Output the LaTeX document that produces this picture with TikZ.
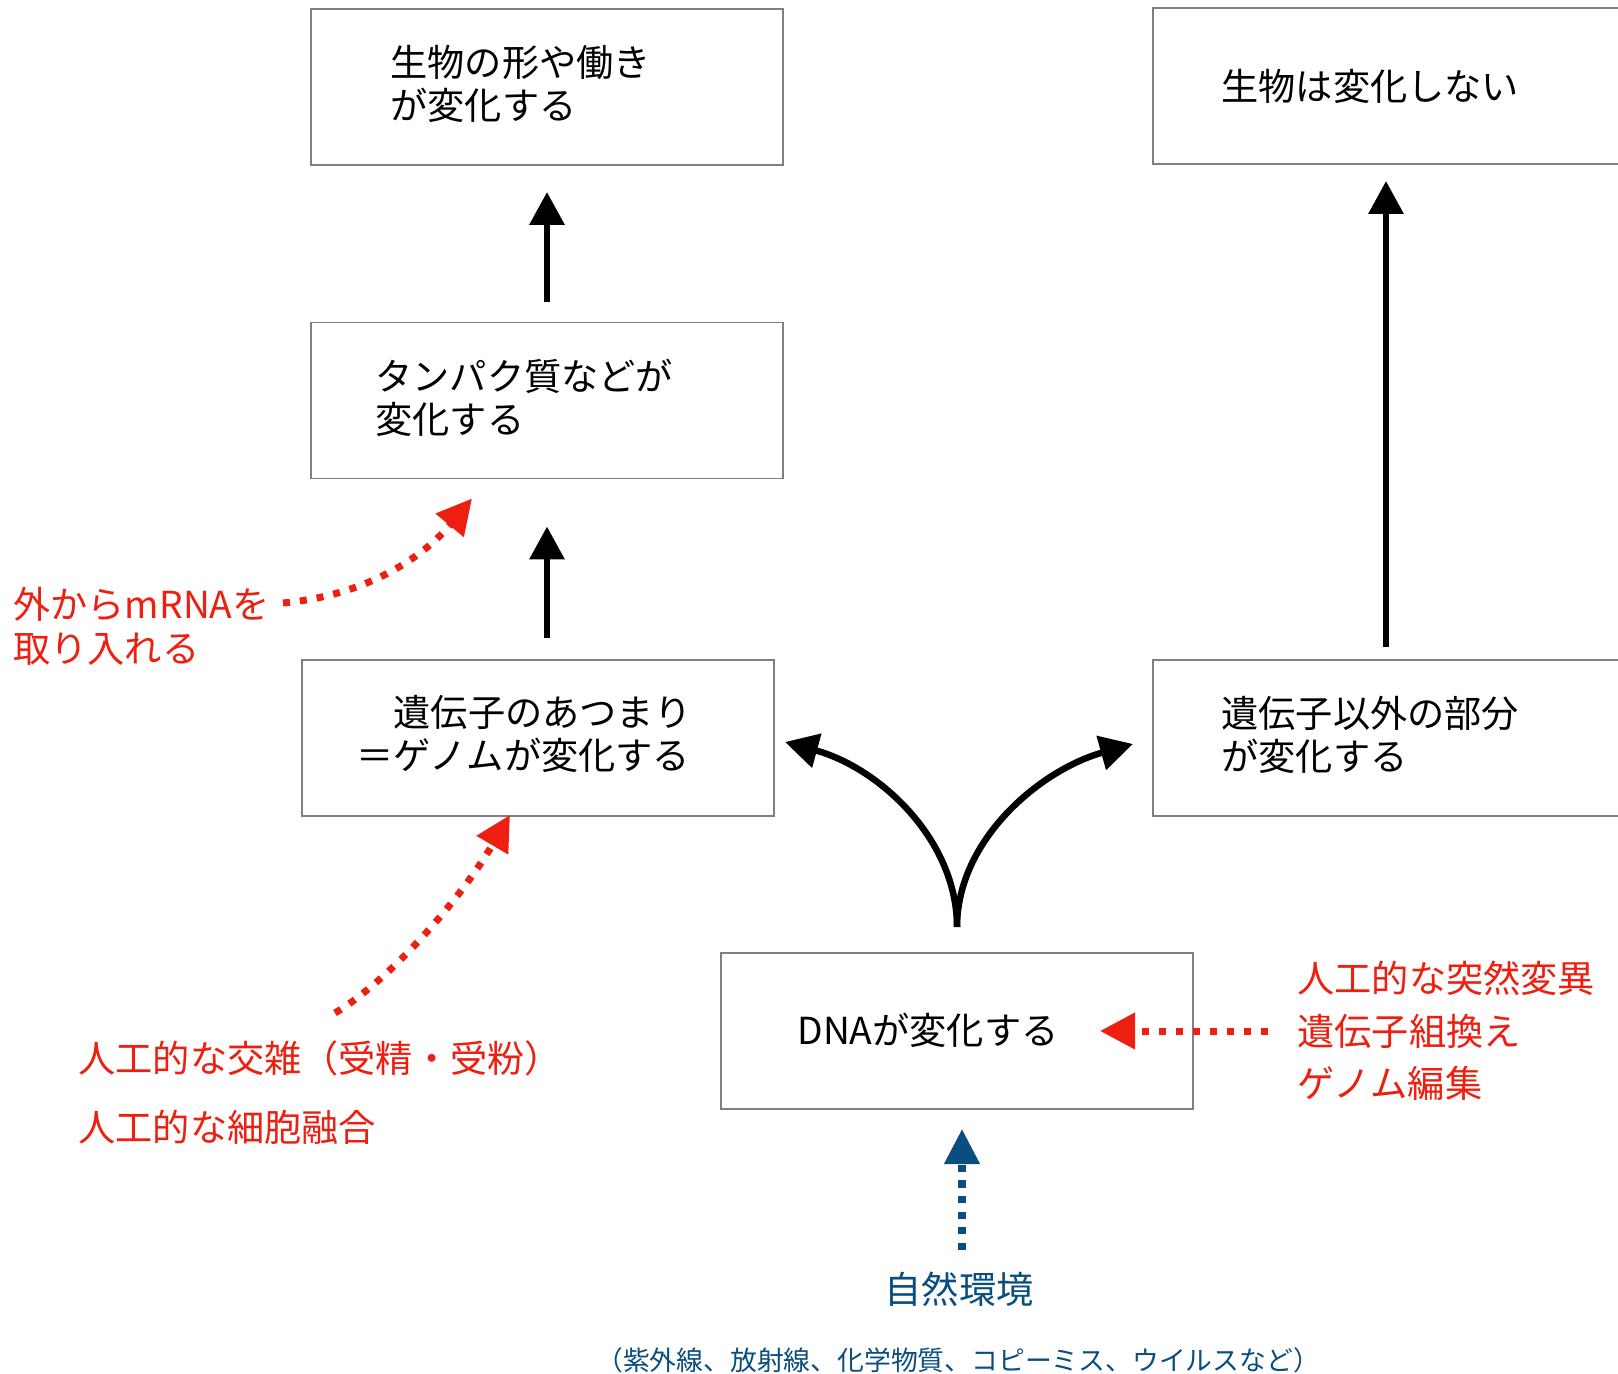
\documentclass[tikz,border=0pt]{standalone}
\usepackage{fontspec}
\setmainfont{Noto Sans CJK JP}
\usetikzlibrary{arrows.meta,calc}
\definecolor{myred}{RGB}{236,31,16}
\definecolor{myblue}{RGB}{10,78,128}
\definecolor{boxgray}{RGB}{128,128,128}
\begin{document}
\begin{tikzpicture}[x=0.5pt,y=-0.5pt,
 box/.style={draw=boxgray, line width=0.75pt, minimum width=236pt, minimum height=78pt, inner sep=0pt, outer sep=0pt},
 txt/.style={anchor=west, inner sep=0pt, align=left, font=\fontsize{18.6pt}{21.5pt}\selectfont},
 blk/.style={line width=3.25pt, -{Triangle[length=16.5pt,width=17pt]}},
 reddot/.style={myred, line width=3.5pt, dash pattern=on 3.5pt off 5pt, -{Triangle[length=17.5pt,width=17.5pt]}},
 bluedot/.style={myblue, line width=3.6pt, dash pattern=on 3.6pt off 4.2pt, -{Triangle[length=17.5pt,width=17pt]}},
]
\clip (0,0) rectangle (1618,1374);
\fill[white] (0,0) rectangle (1618,1374);

% boxes
\node[box] (b1) at (547,87) {};
\node[box] (b2) at (547,400.5) {};
\node[box] (b3) at (538,738) {};
\node[box, minimum width=250pt] (b4) at (1403,738) {};
\node[box, minimum width=250pt] (b5) at (1403,86) {};
\node[box] (dna) at (957,1031) {};

% box texts
\node[txt] (t1) at (390,83.5) {生物の形や働き\\が変化する};
\node[txt] (t2) at (375,397.5) {タンパク質などが\\変化する};
\node[txt] (t3) at (356,733.5) {\hspace*{1em}遺伝子のあつまり\\＝ゲノムが変化する};
\node[txt] (t4) at (1221,734.5) {遺伝子以外の部分\\が変化する};
\node[txt] (t5) at (1221,86) {生物は変化しない};
\node[txt] (t6) at (797,1030) {DNAが変化する};

% red and blue labels
\node[txt, myred, font=\fontsize{18.6pt}{22pt}\selectfont] (r1) at (13,626) {外からmRNAを\\取り入れる};
\node[txt, myred, font=\fontsize{18.6pt}{34.5pt}\selectfont] (r2) at (78,1092.5) {人工的な交雑（受精・受粉）\\人工的な細胞融合};
\node[txt, myred, font=\fontsize{18.6pt}{26.25pt}\selectfont] (r3) at (1297,1031) {人工的な突然変異\\遺伝子組換え\\ゲノム編集};
\node[inner sep=0pt, myblue, font=\fontsize{18.6pt}{21.5pt}\selectfont] (n1) at (959,1289) {自然環境};
\node[inner sep=0pt, myblue, font=\fontsize{13.4pt}{16pt}\selectfont] (n2) at (958,1360) {（紫外線、放射線、化学物質、コピーミス、ウイルスなど）};

% black arrows
\draw[blk, shorten <=10pt, shorten >=13.5pt] (b2.north) -- (b1.south);
\draw[blk, shorten <=11pt, shorten >=24pt] (b3.north -| b2.south) -- (b2.south);
\draw[blk] ($(b4.north west)+(233,-13)$) -- ($(b5.south west)+(233,17)$);
\coordinate (split) at ($(dna.north)+(0,-26)$);
\draw[blk] (split) .. controls (957,840) and (880,768) .. ($(b3.east)+(11,4)$);
\draw[blk] (split) .. controls (957,840) and (1040,770) .. ($(b4.west)+(-20,6)$);

% red dotted arrows
\coordinate (ms) at (283,603);
\coordinate (cs) at (335,1013);
\coordinate (gs) at (1268,1031);
\draw[reddot] (ms) .. controls (370,595) and (425,555) .. ($(b2.south west)+(161,20)$);
\draw[reddot] (cs) .. controls (390,980) and (460,900) .. ($(b3.south west)+(208,-1)$);
\draw[reddot] (gs) -- ($(dna.east)+(-93,0)$);

% blue dotted arrow
\coordinate (ns) at (962,1250);
\draw[bluedot] (ns) -- ($(dna.south)+(5,20)$);
\end{tikzpicture}
\end{document}
